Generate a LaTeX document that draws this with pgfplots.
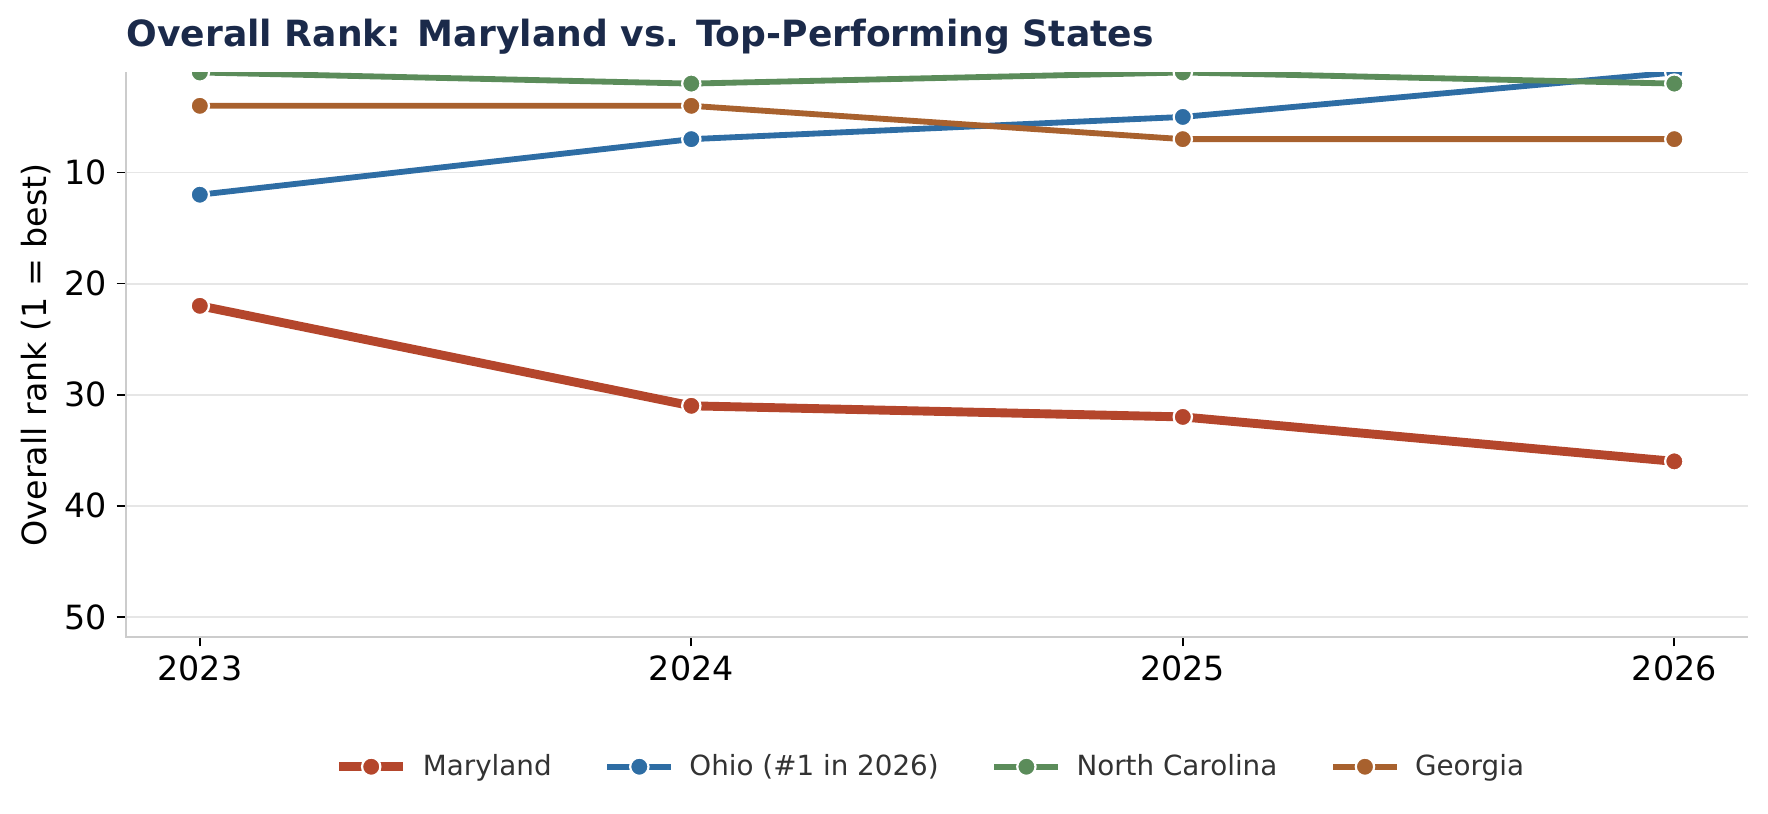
\documentclass[border=0pt]{standalone}
\usepackage{pgfplots}
\pgfplotsset{compat=1.18}
\usepackage{fontspec}
\setmainfont{DejaVu Sans}

\definecolor{mdred}{HTML}{B4462C}
\definecolor{ohblue}{HTML}{2E6DA4}
\definecolor{ncgreen}{HTML}{5B8C5A}
\definecolor{gaorange}{HTML}{A8612E}
\definecolor{titlenavy}{HTML}{1B2A4A}
\definecolor{spinegray}{HTML}{CCCCCC}
\definecolor{gridgray}{HTML}{E6E6E6}

\pgfplotsset{
  rankline/.style={mark=*, mark size=3.3pt,
    mark options={draw=white, fill=#1, line width=0.8pt, solid},
    draw=#1},
}

\begin{document}
\begin{tikzpicture}
\begin{axis}[
  scale only axis,
  width=583.9pt, height=203.2pt,
  xmin=2022.85, xmax=2026.15,
  ymin=1, ymax=51.8, y dir=reverse,
  xtick={2023,2024,2025,2026},
  ytick={10,20,30,40,50},
  xticklabel style={/pgf/number format/1000 sep={}},
  /pgf/number format/assume math mode=true,
  ticklabel style={font=\fontsize{12}{14}\selectfont},
  axis line style={draw=none},
  xtick pos=lower, ytick pos=left,
  tick align=outside,
  major tick length=3.4pt,
  tick style={black, line width=0.6pt},
  ymajorgrids,
  grid style={draw=gridgray, line width=0.7pt},
  ylabel={Overall rank (1 = best)},
  ylabel style={font=\fontsize{12}{14}\selectfont, yshift=-2pt},
  clip marker paths=true,
  legend columns=4,
  legend style={draw=none, fill=none, at={(0.5,-0.23)}, anchor=center,
    font=\fontsize{10}{12}\selectfont, text=black!80,
    nodes={inner xsep=5.5pt},
    /tikz/every even column/.append style={column sep=13.5pt}},
  legend cell align=left,
  legend image code/.code={
    \draw[mark repeat=2, mark phase=2]
      plot coordinates {(0pt,0pt) (11.5pt,0pt) (23pt,0pt)};
  },
]
\addplot[rankline=mdred, line width=3.2pt] coordinates {
  (2023,22) (2024,31) (2025,32) (2026,36)};
\addlegendentry{Maryland}
\addplot[rankline=ohblue, line width=2.1pt] coordinates {
  (2023,12) (2024,7) (2025,5) (2026,1)};
\addlegendentry{Ohio (\#1 in 2026)}
\addplot[rankline=ncgreen, line width=2.1pt] coordinates {
  (2023,1) (2024,2) (2025,1) (2026,2)};
\addlegendentry{North Carolina}
\addplot[rankline=gaorange, line width=2.1pt] coordinates {
  (2023,4) (2024,4) (2025,7) (2026,7)};
\addlegendentry{Georgia}
\end{axis}
% left and bottom spines
\draw[spinegray, line width=0.7pt]
  (current axis.north west) -- (current axis.south west) -- (current axis.south east);
\node[anchor=west, font=\fontsize{13}{15}\selectfont\bfseries, text=titlenavy, inner sep=0pt]
  at ([yshift=13pt]current axis.north west) {Overall Rank: Maryland vs. Top-Performing States};
\path[use as bounding box]
  ([shift={(-45.4pt,-63.4pt)}]current axis.south west)
  rectangle ([shift={(7.2pt,26.1pt)}]current axis.north east);
\end{tikzpicture}
\end{document}
